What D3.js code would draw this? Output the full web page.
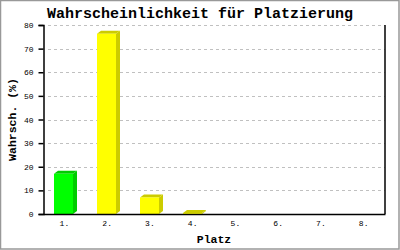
<!DOCTYPE html>
<html>
<head>
<meta charset="utf-8">
<script src="https://cdn.jsdelivr.net/npm/d3@7"></script>
<style>
  html, body { margin: 0; padding: 0; background: #fff; }
  svg { display: block; }
</style>
</head>
<body>
<div id="chart"></div>
<script>
// Probability of final placement, 3D-ish bar chart.

const places = ["1.", "2.", "3.", "4.", "5.", "6.", "7.", "8."];
const percent = [17, 76.3, 7, 0.4, 0, 0, 0, 0];
const barColors = ["#00ff00", "#ffff00", "#ffff00", "#ffff00", "#ffff00", "#ffff00", "#ffff00", "#ffff00"];
const sideColors = ["#00cc00", "#cccc00", "#cccc00", "#cccc00", "#cccc00", "#cccc00", "#cccc00", "#cccc00"];
const yTicks = [0, 10, 20, 30, 40, 50, 60, 70, 80];

const W = 400, H = 250;
const MARGIN = { top: 25, right: 15, bottom: 36, left: 43 };
const DEPTH = { dx: 4, dy: 3 };
const MONO = "'Liberation Mono', 'DejaVu Sans Mono', monospace";

const svg = d3.select("#chart").append("svg")
  .attr("width", W).attr("height", H)
  .attr("viewBox", [0, 0, W, H]);

svg.append("rect")
  .attr("x", 0.5).attr("y", 0.5)
  .attr("width", W - 1.5).attr("height", H - 1.5)
  .attr("fill", "#fff").attr("stroke", "#999").attr("stroke-width", 1.5);

const x = d3.scaleBand().domain(places).range([MARGIN.left, W - MARGIN.right]);
const y = d3.scaleLinear().domain([0, 80]).range([H - MARGIN.bottom, MARGIN.top]);

// dashed grid
svg.append("g")
  .selectAll("line")
  .data(yTicks.filter(d => d > 0))
  .join("line")
  .attr("x1", MARGIN.left + 5).attr("x2", W - MARGIN.right)
  .attr("y1", d => Math.round(y(d)) + 0.5).attr("y2", d => Math.round(y(d)) + 0.5)
  .attr("stroke", "#c0c0c0").attr("stroke-dasharray", "3,3");

// bars: front face, side face, top face
const bw = 19;
const bars = svg.append("g").selectAll("g").data(places).join("g");
bars.each(function (p, i) {
  const v = percent[i];
  if (v <= 0) return;
  const g = d3.select(this);
  const x0 = Math.round(x(p) + x.bandwidth() / 2 - 10);
  const yb = y(0);
  const yt = y(v);
  g.append("path")
    .attr("d", `M${x0 + bw},${yb} L${x0 + bw + DEPTH.dx},${yb - DEPTH.dy} L${x0 + bw + DEPTH.dx},${yt - DEPTH.dy} L${x0 + bw},${yt} Z`)
    .attr("fill", sideColors[i]);
  g.append("path")
    .attr("d", `M${x0},${yt} L${x0 + DEPTH.dx},${yt - DEPTH.dy} L${x0 + bw + DEPTH.dx},${yt - DEPTH.dy} L${x0 + bw},${yt} Z`)
    .attr("fill", sideColors[i]);
  g.append("rect")
    .attr("x", x0).attr("y", yt)
    .attr("width", bw).attr("height", yb - yt)
    .attr("fill", barColors[i]);
});

// frame: left axis, bottom axis, right edge
const yAxis = svg.append("g")
  .attr("transform", `translate(${MARGIN.left + 0.5},0)`)
  .call(d3.axisLeft(y).tickValues(yTicks).tickSize(5).tickPadding(5));
yAxis.select(".domain").attr("stroke", "#000").attr("stroke-width", 1.5);
yAxis.selectAll(".tick line").attr("stroke", "#000").attr("stroke-width", 1.5);
yAxis.selectAll(".tick text")
  .style("font-family", MONO).style("font-size", "8px").attr("fill", "#000");

const xAxis = svg.append("g")
  .attr("transform", `translate(0,${y(0)})`)
  .call(d3.axisBottom(x).tickSize(0).tickPadding(6));
xAxis.select(".domain").attr("stroke", "#000").attr("stroke-width", 1.5);
xAxis.selectAll(".tick text")
  .style("font-family", MONO).style("font-size", "8px").attr("fill", "#000");

svg.append("line")
  .attr("x1", W - MARGIN.right).attr("x2", W - MARGIN.right)
  .attr("y1", MARGIN.top).attr("y2", y(0))
  .attr("stroke", "#000").attr("stroke-width", 1.5);

// titles
svg.append("text")
  .attr("x", 200).attr("y", 18)
  .attr("text-anchor", "middle")
  .style("font-family", MONO).style("font-size", "15px").style("font-weight", "bold")
  .text("Wahrscheinlichkeit für Platzierung");

svg.append("text")
  .attr("transform", `translate(16,${(MARGIN.top + y(0)) / 2}) rotate(-90)`)
  .attr("text-anchor", "middle")
  .style("font-family", MONO).style("font-size", "11.5px").style("font-weight", "bold")
  .text("Wahrsch. (%)");

svg.append("text")
  .attr("x", (MARGIN.left + W - MARGIN.right) / 2).attr("y", 243)
  .attr("text-anchor", "middle")
  .style("font-family", MONO).style("font-size", "11.5px").style("font-weight", "bold")
  .text("Platz");
</script>
</body>
</html>
